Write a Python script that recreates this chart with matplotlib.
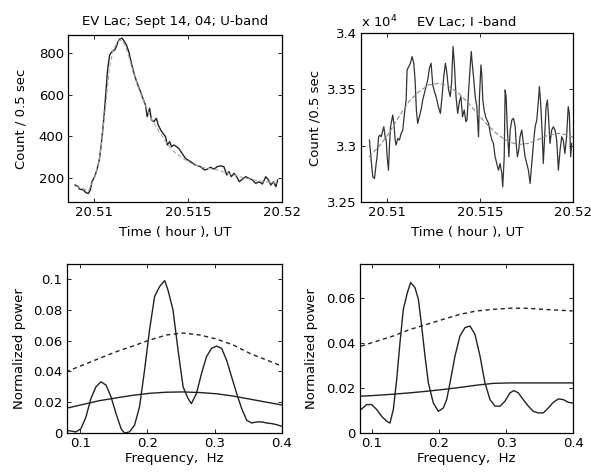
import numpy as np
import matplotlib
matplotlib.use("Agg")
import matplotlib.pyplot as plt
from matplotlib.ticker import FuncFormatter

plt.rcParams['font.family'] = ['DejaVu Sans']
plt.rcParams['font.size'] = 9

# U-band light curve (hour UT, counts / 0.5 s)
u_time = [20.50898, 20.50916, 20.50920, 20.50943, 20.50956, 20.50969, 20.50979, 20.50988,
          20.51002, 20.51014, 20.51027, 20.51038, 20.51047, 20.51055, 20.51063, 20.51071,
          20.51082, 20.51095, 20.51109, 20.51118, 20.51127, 20.51136, 20.51148, 20.51161,
          20.51171, 20.51184, 20.51198, 20.51214, 20.51229, 20.51243, 20.51259, 20.51273,
          20.51282, 20.51295, 20.51305, 20.51318, 20.51331, 20.51341, 20.51354, 20.51366,
          20.51380, 20.51389, 20.51402, 20.51412, 20.51425, 20.51450, 20.51468, 20.51486,
          20.51513, 20.51539, 20.51566, 20.51588, 20.51602, 20.51620, 20.51638, 20.51655,
          20.51673, 20.51691, 20.51706, 20.51718, 20.51730, 20.51745, 20.51759, 20.51773,
          20.51789, 20.51807, 20.51825, 20.51843, 20.51861, 20.51879, 20.51896, 20.51914,
          20.51928, 20.51941, 20.51955, 20.51968, 20.51977]
u_count = [166, 158, 147, 142, 129, 126, 142, 182,
           206, 238, 286, 366, 446, 526, 622, 718,
           790, 806, 814, 830, 854, 866, 870, 854,
           838, 806, 750, 694, 654, 622, 582, 550,
           494, 534, 478, 470, 486, 454, 430, 414,
           398, 358, 374, 350, 358, 342, 318, 294,
           278, 262, 254, 238, 242, 251, 242, 254,
           258, 254, 214, 230, 206, 222, 206, 182,
           194, 206, 198, 190, 174, 182, 171, 206,
           190, 166, 182, 158, 190]
# smoothed U-band curve
u_fit_time = [20.5090, 20.5097, 20.5100, 20.5103, 20.5106, 20.5108, 20.5110, 20.51125,
              20.5114, 20.5116, 20.5118, 20.5121, 20.5124, 20.5127, 20.5130, 20.5134,
              20.5138, 20.5142, 20.5147, 20.5152, 20.5158, 20.5165, 20.5172, 20.5180,
              20.5188, 20.5198]
u_fit_count = [160, 140, 195, 300, 540, 720, 815, 852,
               862, 845, 795, 700, 620, 555, 490, 430,
               375, 330, 295, 268, 250, 240, 220, 200,
               185, 175]

# I-band light curve
i_time = [20.50905, 20.50914, 20.50923, 20.50932, 20.50941, 20.50946, 20.50954, 20.50961,
          20.50968, 20.50977, 20.50982, 20.50989, 20.50995, 20.51000, 20.51007, 20.51013,
          20.51018, 20.51025, 20.51030, 20.51036, 20.51043, 20.51048, 20.51057, 20.51066,
          20.51075, 20.51084, 20.51093, 20.51102, 20.51107, 20.51116, 20.51125, 20.51134,
          20.51143, 20.51150, 20.51157, 20.51164, 20.51173, 20.51182, 20.51191, 20.51200,
          20.51209, 20.51218, 20.51227, 20.51236, 20.51245, 20.51254, 20.51263, 20.51275,
          20.51286, 20.51295, 20.51304, 20.51313, 20.51321, 20.51330, 20.51339, 20.51346,
          20.51354, 20.51361, 20.51370, 20.51379, 20.51388, 20.51396, 20.51405, 20.51414,
          20.51423, 20.51429, 20.51438, 20.51446, 20.51452, 20.51457, 20.51464, 20.51473,
          20.51482, 20.51491, 20.51496, 20.51504, 20.51509, 20.51514, 20.51521, 20.51529,
          20.51536, 20.51545, 20.51554, 20.51563, 20.51571, 20.51580, 20.51589, 20.51598,
          20.51607, 20.51616, 20.51621, 20.51629, 20.51634, 20.51639, 20.51646, 20.51654,
          20.51661, 20.51670, 20.51679, 20.51688, 20.51693, 20.51700, 20.51707, 20.51714,
          20.51723, 20.51732, 20.51741, 20.51750, 20.51759, 20.51768, 20.51777, 20.51786,
          20.51795, 20.51804, 20.51813, 20.51818, 20.51825, 20.51832, 20.51839, 20.51846,
          20.51854, 20.51861, 20.51868, 20.51875, 20.51884, 20.51893, 20.51902, 20.51911,
          20.51920, 20.51929, 20.51938, 20.51946, 20.51955, 20.51964, 20.51973, 20.51979,
          20.51986, 20.51991]
i_count = [33050, 32871, 32723, 32708, 32842, 32901, 33079, 33094,
           33079, 33139, 33168, 33079, 33050, 32901, 32782, 33020,
           33168, 33228, 33272, 33198, 33050, 33005, 33064, 33050,
           33109, 33139, 33287, 33406, 33673, 33703, 33733, 33792,
           33733, 33584, 33317, 33198, 33257, 33317, 33406, 33465,
           33525, 33584, 33688, 33733, 33540, 33480, 33436, 33347,
           33287, 33436, 33614, 33733, 33644, 33495, 33436, 33554,
           33881, 33733, 33436, 33287, 33391, 33436, 33257, 33317,
           33213, 33228, 33495, 33703, 33837, 33733, 33614, 33436,
           33347, 33079, 33436, 33718, 33614, 33406, 33317, 33257,
           33228, 33198, 33109, 33050, 33020, 32901, 32842, 32782,
           32842, 32753, 32634, 32901, 33495, 33436, 33139, 32901,
           33139, 33228, 33243, 33168, 33020, 32901, 32960, 33079,
           33139, 33020, 32901, 32842, 32782, 32663, 32842, 33020,
           33168, 33228, 33406, 33525, 33376, 33139, 32842, 33079,
           33347, 33406, 33228, 33020, 33139, 33168, 33139, 33050,
           32782, 32960, 33079, 33050, 32931, 33079, 33347, 33287,
           32901, 33020]
i_fit_time = [20.50902, 20.50955, 20.51009, 20.51063, 20.51116, 20.51170, 20.51223, 20.51277,
              20.51330, 20.51384, 20.51438, 20.51491, 20.51545, 20.51598, 20.51652, 20.51705,
              20.51759, 20.51813, 20.51866, 20.51920, 20.51973, 20.52000]
i_fit_count = [32901, 32990, 33109, 33257, 33391, 33480, 33540, 33554,
               33531, 33465, 33376, 33272, 33174, 33094, 33035, 33011,
               33020, 33056, 33094, 33109, 33094, 33073]

# periodograms, U-band
fu = [0.0786, 0.0861, 0.0935, 0.1010, 0.1085, 0.1159, 0.1234, 0.1309, 0.1384, 0.1458,
      0.1533, 0.1608, 0.1658, 0.1732, 0.1807, 0.1882, 0.1957, 0.2031, 0.2106, 0.2181,
      0.2256, 0.2305, 0.2380, 0.2455, 0.2530, 0.2604, 0.2654, 0.2729, 0.2804, 0.2878,
      0.2953, 0.3028, 0.3103, 0.3177, 0.3252, 0.3327, 0.3401, 0.3476, 0.3551, 0.3625,
      0.3700, 0.3775, 0.3849, 0.3924, 0.4000]
pu = [0.0017, 0.0013, 0.0007, 0.0028, 0.0104, 0.0224, 0.0300, 0.0333, 0.0311, 0.0235,
      0.0126, 0.0028, 0.0000, 0.0007, 0.0050, 0.0170, 0.0409, 0.0670, 0.0887, 0.0952,
      0.0991, 0.0930, 0.0800, 0.0539, 0.0300, 0.0224, 0.0191, 0.0257, 0.0387, 0.0496,
      0.0550, 0.0565, 0.0550, 0.0474, 0.0365, 0.0257, 0.0159, 0.0083, 0.0065, 0.0072,
      0.0072, 0.0065, 0.0061, 0.0054, 0.0043]
fu_lev = [0.0786, 0.1035, 0.1284, 0.1533, 0.1782, 0.2031, 0.2280, 0.2530, 0.2779,
          0.3028, 0.3277, 0.3526, 0.3775, 0.4000]
pu_99 = [0.0398, 0.0441, 0.0485, 0.0528, 0.0565, 0.0604, 0.0637, 0.0650, 0.0637,
         0.0611, 0.0572, 0.0517, 0.0474, 0.0435]
pu_mean = [0.0160, 0.0185, 0.0210, 0.0228, 0.0245, 0.0258, 0.0265, 0.0267, 0.0263,
           0.0255, 0.0240, 0.0220, 0.0200, 0.0182]

# periodograms, I-band
fi = [0.0836, 0.0921, 0.0995, 0.1070, 0.1144, 0.1219, 0.1268, 0.1318, 0.1368, 0.1417,
      0.1467, 0.1527, 0.1576, 0.1641, 0.1691, 0.1740, 0.1790, 0.1840, 0.1914, 0.1989,
      0.2063, 0.2113, 0.2163, 0.2237, 0.2311, 0.2386, 0.2461, 0.2535, 0.2610, 0.2684,
      0.2759, 0.2833, 0.2908, 0.2982, 0.3057, 0.3116, 0.3181, 0.3255, 0.3330, 0.3404,
      0.3479, 0.3553, 0.3628, 0.3702, 0.3777, 0.3851, 0.3926, 0.3990]
pi_ = [0.0104, 0.0126, 0.0126, 0.0104, 0.0074, 0.0052, 0.0044, 0.0104, 0.0237, 0.0400,
       0.0548, 0.0622, 0.0667, 0.0644, 0.0593, 0.0474, 0.0341, 0.0222, 0.0133, 0.0096,
       0.0111, 0.0148, 0.0222, 0.0341, 0.0430, 0.0467, 0.0474, 0.0437, 0.0341, 0.0222,
       0.0148, 0.0119, 0.0119, 0.0141, 0.0178, 0.0188, 0.0178, 0.0148, 0.0119, 0.0096,
       0.0089, 0.0089, 0.0111, 0.0136, 0.0151, 0.0148, 0.0136, 0.0133]
fi_lev = [0.0836, 0.1070, 0.1318, 0.1566, 0.1815, 0.2063, 0.2311, 0.2560, 0.2808,
          0.3057, 0.3305, 0.3553, 0.3802, 0.3990]
pi_99 = [0.0385, 0.0407, 0.0430, 0.0459, 0.0481, 0.0504, 0.0526, 0.0541, 0.0548,
         0.0553, 0.0553, 0.0548, 0.0544, 0.0541]
pi_mean = [0.0163, 0.0167, 0.0172, 0.0178, 0.0185, 0.0193, 0.0202, 0.0212, 0.0220,
           0.0222, 0.0222, 0.0222, 0.0222, 0.0222]

fig = plt.figure(figsize=(5.91, 4.74), dpi=100)
ax1 = fig.add_axes([0.115, 0.574, 0.362, 0.352])
ax2 = fig.add_axes([0.611, 0.574, 0.359, 0.356])
ax3 = fig.add_axes([0.113, 0.0865, 0.364, 0.357])
ax4 = fig.add_axes([0.609, 0.0865, 0.361, 0.357])

fs = 9.5
for ax in (ax1, ax2, ax3, ax4):
    ax.tick_params(direction='in', top=True, right=True, length=3, width=0.6,
                   labelsize=fs, pad=3)
    for s in ax.spines.values():
        s.set_linewidth(0.9)

# U-band
ax1.plot(u_time, u_count, color='#222222', lw=1.0)
ax1.plot(u_fit_time, u_fit_count, color='#aaaaaa', lw=0.8, dashes=(4, 2))
ax1.set_xlim(20.5086, 20.52)
ax1.set_ylim(85, 885)
ax1.set_xticks([20.51, 20.515, 20.52])
ax1.set_xticklabels(['20.51', '20.515', '20.52'])
ax1.set_yticks([200, 400, 600, 800])
ax1.set_title('EV Lac; Sept 14, 04; U-band', fontsize=fs, pad=7)
ax1.set_xlabel('Time ( hour ), UT', fontsize=fs, labelpad=5)
ax1.set_ylabel('Count / 0.5 sec', fontsize=fs, labelpad=8)

# I-band
ax2.plot(i_time, i_count, color='#333333', lw=0.9)
ax2.plot(i_fit_time, i_fit_count, color='#888888', lw=0.8, dashes=(4, 2))
ax2.set_xlim(20.5086, 20.52)
ax2.set_ylim(32500, 34000)
ax2.set_xticks([20.51, 20.515, 20.52])
ax2.set_xticklabels(['20.51', '20.515', '20.52'])
ax2.set_yticks([32500, 33000, 33500, 34000])
ax2.yaxis.set_major_formatter(FuncFormatter(lambda v, p: f'{v / 1e4:g}'))
ax2.set_title('EV Lac; I -band', fontsize=fs, pad=5)
ax2.text(0.0, 1.02, 'x 10$^4$', transform=ax2.transAxes, fontsize=fs,
         ha='left', va='bottom')
ax2.set_xlabel('Time ( hour ), UT', fontsize=fs, labelpad=5)
ax2.set_ylabel('Count /0.5 sec', fontsize=fs, labelpad=4)

# U-band periodogram
ax3.plot(fu, pu, color='#222222', lw=1.0)
ax3.plot(fu_lev, pu_99, color='#222222', lw=1.0, dashes=(3, 2.5))
ax3.plot(fu_lev, pu_mean, color='#222222', lw=1.0)
ax3.set_xlim(0.08, 0.4)
ax3.set_ylim(0, 0.11)
ax3.set_xticks([0.1, 0.2, 0.3, 0.4])
ax3.set_yticks([0, 0.02, 0.04, 0.06, 0.08, 0.1])
ax3.set_yticklabels(['0', '0.02', '0.04', '0.06', '0.08', '0.1'])
ax3.set_xlabel('Frequency,  Hz', fontsize=fs, labelpad=1)
ax3.set_ylabel('Normalized power', fontsize=fs, labelpad=5.5)

# I-band periodogram
ax4.plot(fi, pi_, color='#222222', lw=1.0)
ax4.plot(fi_lev, pi_99, color='#222222', lw=1.0, dashes=(3, 2.5))
ax4.plot(fi_lev, pi_mean, color='#222222', lw=1.0)
ax4.set_xlim(0.082, 0.4)
ax4.set_ylim(0, 0.075)
ax4.set_xticks([0.1, 0.2, 0.3, 0.4])
ax4.set_yticks([0, 0.02, 0.04, 0.06])
ax4.set_yticklabels(['0', '0.02', '0.04', '0.06'])
ax4.set_xlabel('Frequency,  Hz', fontsize=fs, labelpad=1)
ax4.set_ylabel('Normalized power', fontsize=fs, labelpad=6)

fig.savefig('out.png', dpi=100)
